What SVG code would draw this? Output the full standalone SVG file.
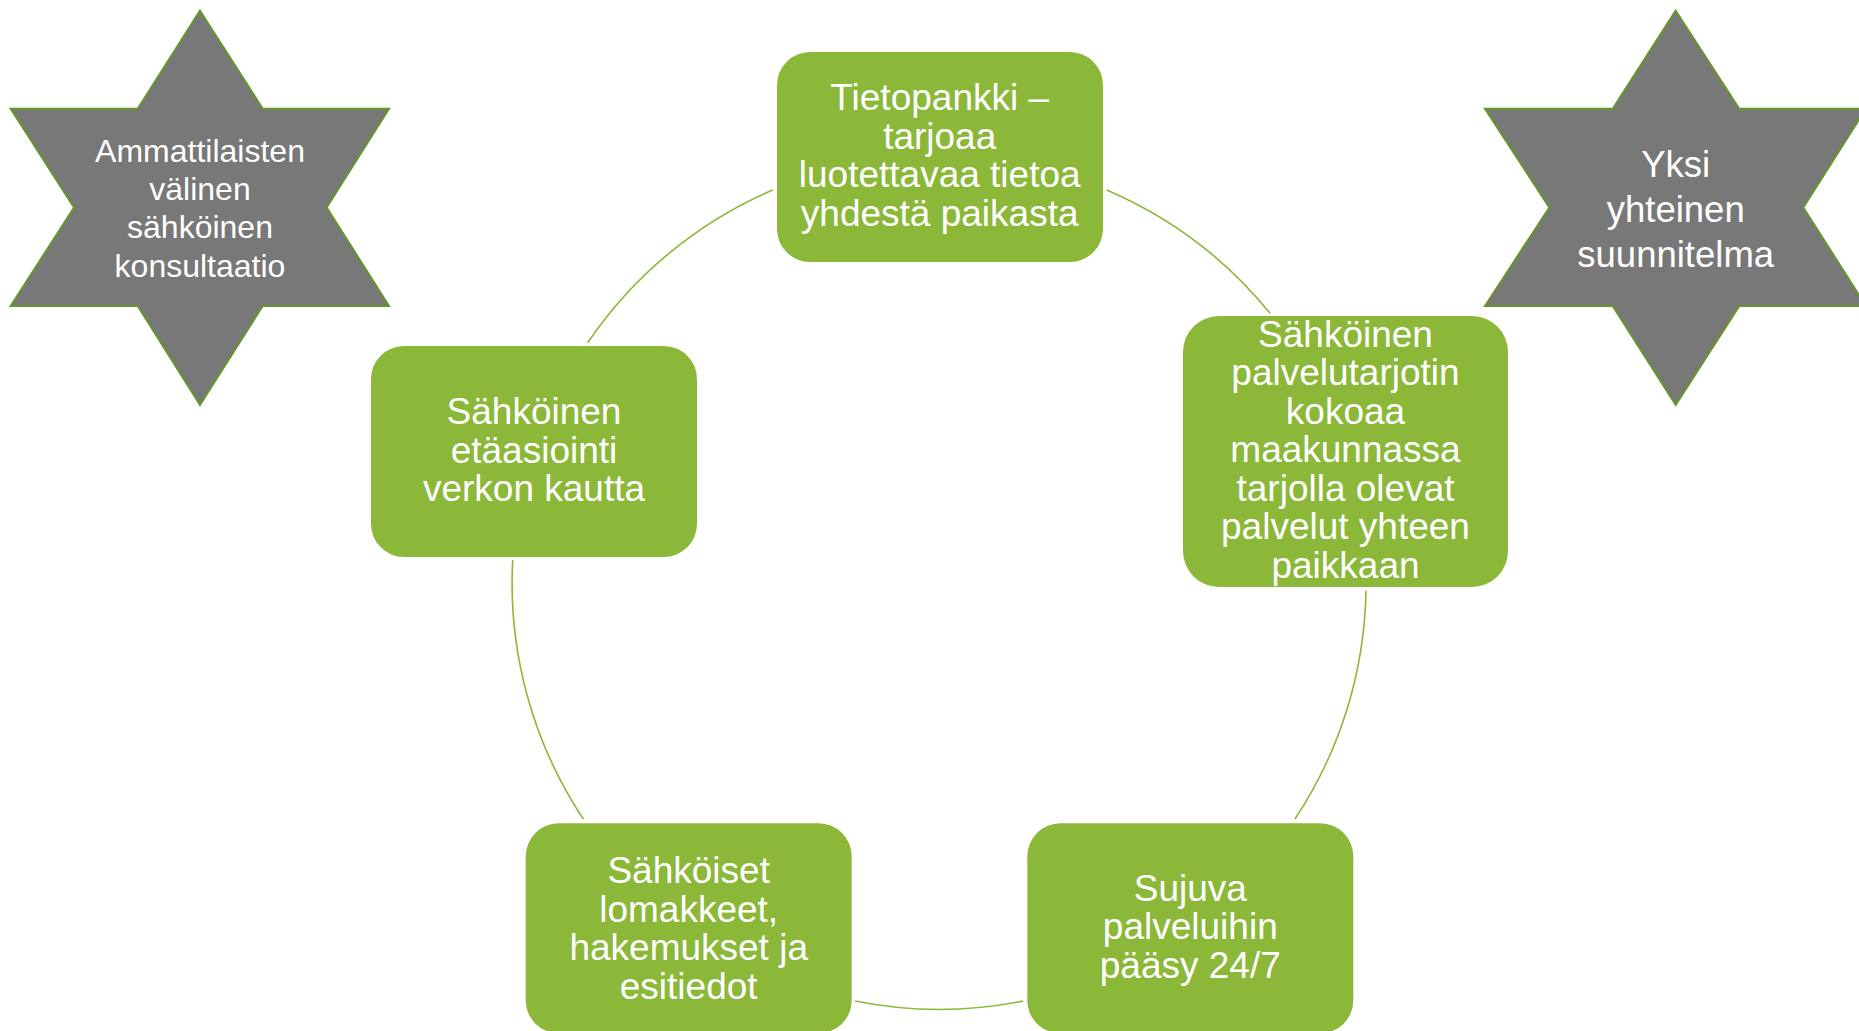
<svg xmlns="http://www.w3.org/2000/svg" width="1859" height="1031" viewBox="0 0 1859 1031">
<style>
.box{fill:#8CB83A;}
.star{fill:#787878;stroke:#66962A;stroke-width:2;stroke-linejoin:miter;}
.conn{fill:none;stroke:#8CB83A;stroke-width:1.6;}
text{font-family:"Liberation Sans",Arial,sans-serif;fill:#FFFFFF;text-anchor:middle;}
.t37{font-size:37px;}
.t31{font-size:32px;}
.t36{font-size:36.5px;}
</style>
<rect x="0" y="0" width="1859" height="1031" fill="#FFFFFF"/>
<g id="connectors">
<path class="conn" d="M587.7,342.7 A427,427 0 0 1 772.7,190"/>
<path class="conn" d="M1106.7,190 A427,427 0 0 1 1270,313.3"/>
<path class="conn" d="M1366,590.7 A427,427 0 0 1 1295,819"/>
<path class="conn" d="M1023.3,1001 A427,427 0 0 1 855,1001"/>
<path class="conn" d="M583.3,819 A427,427 0 0 1 512.7,560"/>
</g>
<g id="star-left">
<polygon class="star" points="200,10.7 262.7,108.7 389,108.7 326.7,207.5 389,306 262.7,306 200,405 137.7,306 10.7,306 74,207.5 10.7,108.7 137.7,108.7"/>
<text class="t31" x="200" y="161.7">Ammattilaisten</text>
<text class="t31" x="200" y="200">välinen</text>
<text class="t31" x="200" y="238.3">sähköinen</text>
<text class="t31" x="200" y="276.7">konsultaatio</text>
</g>
<g id="star-right">
<polygon class="star" points="1675.7,10.7 1739.3,108.7 1866,108.7 1803.3,207.5 1866,306 1739.3,306 1675.7,405 1612.7,306 1485,306 1549.3,207.5 1485,108.7 1612.7,108.7"/>
<text class="t36" x="1675.7" y="176.7">Yksi</text>
<text class="t36" x="1675.7" y="221.7">yhteinen</text>
<text class="t36" x="1675.7" y="266.7">suunnitelma</text>
</g>
<g id="node-tietopankki">
<rect class="box" x="777" y="52" width="326" height="210" rx="33" ry="33"/>
<text class="t37" x="939.7" y="110">Tietopankki –</text>
<text class="t37" x="939.7" y="148.5">tarjoaa</text>
<text class="t37" x="939.7" y="187">luotettavaa tietoa</text>
<text class="t37" x="939.7" y="225.5">yhdestä paikasta</text>
</g>
<g id="node-palvelutarjotin">
<rect class="box" x="1183" y="316" width="325" height="271" rx="36" ry="36"/>
<text class="t37" x="1345.5" y="346.7">Sähköinen</text>
<text class="t37" x="1345.5" y="385.2">palvelutarjotin</text>
<text class="t37" x="1345.5" y="423.7">kokoaa</text>
<text class="t37" x="1345.5" y="462.2">maakunnassa</text>
<text class="t37" x="1345.5" y="500.7">tarjolla olevat</text>
<text class="t37" x="1345.5" y="539.2">palvelut yhteen</text>
<text class="t37" x="1345.5" y="577.7">paikkaan</text>
</g>
<g id="node-sujuva">
<rect class="box" x="1027.3" y="823.3" width="326" height="210" rx="33" ry="33"/>
<text class="t37" x="1190.3" y="900.7">Sujuva</text>
<text class="t37" x="1190.3" y="939.2">palveluihin</text>
<text class="t37" x="1190.3" y="977.7">pääsy 24/7</text>
</g>
<g id="node-lomakkeet">
<rect class="box" x="525.7" y="823.3" width="326" height="210" rx="33" ry="33"/>
<text class="t37" x="688.7" y="883.3">Sähköiset</text>
<text class="t37" x="688.7" y="921.8">lomakkeet,</text>
<text class="t37" x="688.7" y="960.3">hakemukset ja</text>
<text class="t37" x="688.7" y="998.8">esitiedot</text>
</g>
<g id="node-etaasiointi">
<rect class="box" x="371" y="346" width="326" height="211" rx="33" ry="33"/>
<text class="t37" x="534" y="424.3">Sähköinen</text>
<text class="t37" x="534" y="462.8">etäasiointi</text>
<text class="t37" x="534" y="501.3">verkon kautta</text>
</g>
</svg>
